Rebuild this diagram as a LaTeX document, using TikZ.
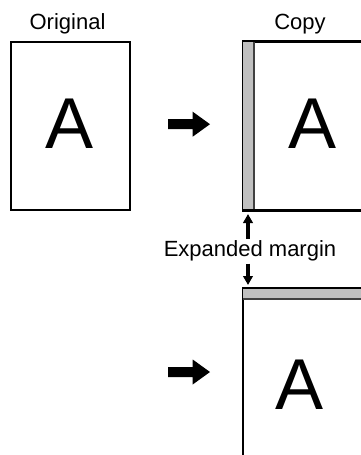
\documentclass[tikz,border=0pt]{standalone}
\usepackage{fontspec}
\setmainfont{Liberation Sans}
\usetikzlibrary{arrows.meta}
\definecolor{stripfill}{RGB}{192,192,192}
\definecolor{stripline}{RGB}{64,64,64}
\tikzset{
  page/.style={draw=black,line width=1.8pt,fill=white,inner sep=0pt},
  stripbox/.style={fill=stripfill},
  stripedge/.style={draw=stripline,line width=1.4pt},
  lbl/.style={font=\fontsize{22}{26}\selectfont,inner sep=0pt},
  bigA/.style={font=\fontsize{72}{80}\selectfont,inner sep=0pt},
  ptr/.style={line width=3.6pt,-{Triangle[length=9pt,width=9.5pt]}},
  pics/fatarrow/.style={code={
    \fill (0,-5) -- (24.7,-5) -- (24.7,-12.5) -- (42,0) -- (24.7,12.5) -- (24.7,5) -- (0,5) -- cycle;}}
}
\begin{document}
\begin{tikzpicture}[x=1pt,y=-1pt]
\useasboundingbox (0,0) rectangle (361,455);
\clip (0,0) rectangle (361,455);
% labels
\node[lbl,anchor=base] (lorig) at (67.5,29) {Original};
\node[lbl,anchor=base] (lcopy) at (300,29) {Copy};
% original page
\node[page,anchor=north west,minimum width=119pt,minimum height=168pt] (orig) at (10,41) {};
\node[bigA] (aorig) at (70,124) {A};
% arrow 1
\pic (arr1) at (168,124.2) {fatarrow};
% copy page (left margin)
\node[page,anchor=north west,minimum width=118.5pt,minimum height=168pt] (copy) at (242.5,41) {};
\fill[stripbox] (copy.north west) rectangle (254,209);
\draw[stripedge] (254,41) -- (254,209);
\draw[line width=1.8pt] (copy.north east) -- (copy.north west) -- (copy.south west) -- (copy.south east);
\node[bigA] (acopy) at (313,124) {A};
% label expanded margin
\node[lbl,anchor=base] (lmargin) at (250,256) {Expanded margin};
\coordinate (uptip) at (248,214);
\coordinate (upbase) at (248,238.5);
\coordinate (dntip) at (248,285);
\coordinate (dnbase) at (248,263.5);
\draw[ptr] (upbase) -- (uptip);
\draw[ptr] (dnbase) -- (dntip);
% arrow 2
\pic (arr2) at (168,372) {fatarrow};
% copy page (top margin)
\node[page,anchor=north west,minimum width=118.5pt,minimum height=200pt] (copyb) at (242.5,288) {};
\fill[stripbox] (copyb.north west) rectangle (361,299);
\draw[stripedge] (242.5,299) -- (361,299);
\draw[line width=1.8pt] (copyb.south west) -- (copyb.north west) -- (copyb.north east);
\node[bigA] (acopyb) at (300,384.5) {A};
\end{tikzpicture}
\end{document}
